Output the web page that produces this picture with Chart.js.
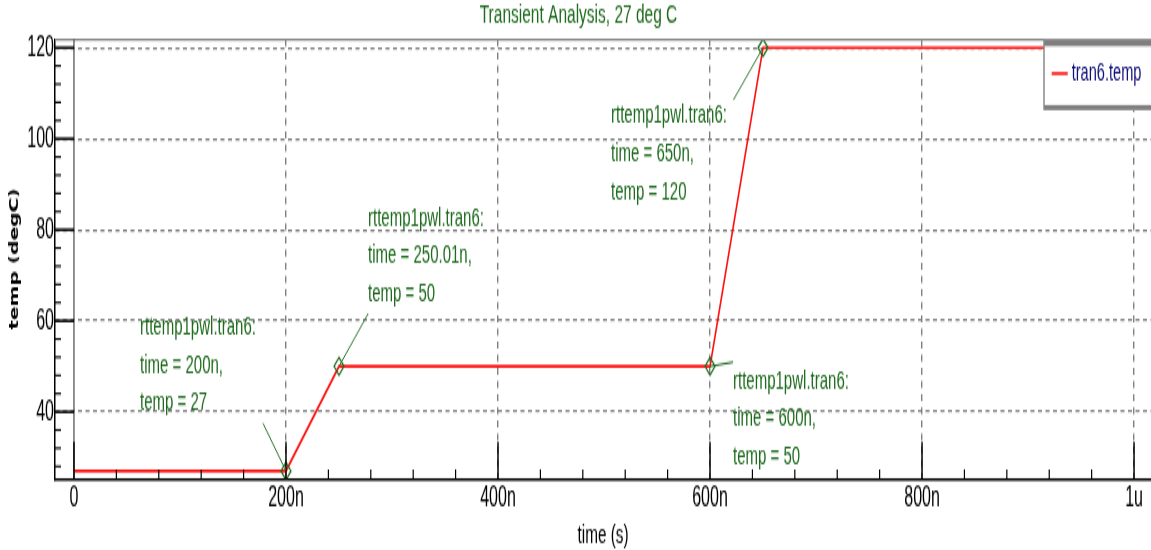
<!DOCTYPE html>
<html>
<head>
<meta charset="utf-8">
<title>Transient Analysis, 27 deg C</title>
<script src="https://cdn.jsdelivr.net/npm/chart.js@4.4.1/dist/chart.umd.min.js"></script>
<style>
  html, body { margin: 0; padding: 0; background: #fff; }
</style>
</head>
<body>
<!-- drawn at 1151x314 and shown stretched to 550 high, like the original capture -->
<canvas id="chart" width="1151" height="314" style="display:block;width:1151px;height:550px"></canvas>
<script>
/* ========= DATA ========= */

// tran6.temp waveform: time in ns, temperature in degC
const times = [0, 200, 250.01, 600, 650, 1000];
const temps = [27, 27, 50, 50, 120, 120];

// points marked with rttemp1pwl.tran6 notes
const markTimes = [200, 250.01, 600, 650];
const markTemps = [27, 50, 50, 120];

const xTicks = [0, 200, 400, 600, 800, 1000];
const xTickLabels = ["0", "200n", "400n", "600n", "800n", "1u"];
const yTicks = [40, 60, 80, 100, 120];
const yTickLabels = ["40", "60", "80", "100", "120"];

/* ========= STYLE ========= */

const RED = "#ff1010";
const GREEN = "#1d6b1d";
const GRID = "#7f7f7f";
const FONT = "'Liberation Sans', Arial, sans-serif";

// where each note's text and leader start sit, in data units (time, temp)
const notePlaces = [
  { tx: 62.3, ty: 58.5, lx: 178.3, ly: 37.5 },
  { tx: 277.4, ty: 82.5, lx: 277.6, ly: 61.6 },
  { tx: 621.7, ty: 46.7, lx: 621.7, ly: 50.9 },
  { tx: 506.6, ty: 105.0, lx: 622.0, ly: 108.5 }
];

/* ========= DECORATION PLUGIN ========= */

function seg(ctx, x1, y1, x2, y2) {
  ctx.beginPath();
  ctx.moveTo(x1, y1);
  ctx.lineTo(x2, y2);
  ctx.stroke();
}

const decor = {
  id: "decor",
  beforeDraw(chart) {
    const ctx = chart.ctx;
    ctx.save();
    ctx.fillStyle = "#fff";
    ctx.fillRect(0, 0, chart.width, chart.height);
    ctx.restore();
  },
  afterDatasetsDraw(chart) {
    const { ctx, chartArea: a, scales: { x, y } } = chart;
    ctx.save();

    // top frame
    ctx.strokeStyle = "#8c8c8c";
    ctx.lineWidth = 1.3;
    seg(ctx, a.left, a.top, a.right, a.top);

    // solid frame at t = 0
    const x0 = x.getPixelForValue(0);
    ctx.strokeStyle = "#222";
    ctx.lineWidth = 1;
    seg(ctx, x0, a.top, x0, a.bottom);

    // y ticks point inward, minor every 4 degC
    ctx.strokeStyle = "#000";
    for (let v = Math.ceil(y.min / 4) * 4; v <= y.max; v += 4) {
      const py = y.getPixelForValue(v);
      const major = yTicks.includes(v);
      ctx.lineWidth = major ? 1.5 : 1.1;
      seg(ctx, a.left, py, a.left + (major ? 19 : 6), py);
    }

    // x ticks point up, minor every 40n
    for (let t = 0; t <= x.max; t += 40) {
      const px = x.getPixelForValue(t);
      const major = xTicks.includes(t);
      ctx.lineWidth = major ? 1.5 : 1.2;
      seg(ctx, px, a.bottom, px, a.bottom - (major ? 21 : 5.4));
    }

    // notes with leader lines
    ctx.font = "15px " + FONT;
    ctx.textAlign = "left";
    ctx.textBaseline = "middle";
    ctx.fillStyle = GREEN;
    ctx.strokeStyle = GREEN;
    ctx.lineWidth = 1;
    markTimes.forEach((t, i) => {
      const p = notePlaces[i];
      seg(ctx, x.getPixelForValue(p.lx), y.getPixelForValue(p.ly),
        x.getPixelForValue(t), y.getPixelForValue(markTemps[i]));
      const lines = ["rttemp1pwl.tran6:", `time = ${t}n,`, `temp = ${markTemps[i]}`];
      const tx = x.getPixelForValue(p.tx);
      const ty = y.getPixelForValue(p.ty);
      lines.forEach((s, j) => ctx.fillText(s, tx, ty + j * 21.6));
    });

    // legend box in the top right corner
    const ds = chart.data.datasets[1];
    const lx = a.right - 107;
    ctx.fillStyle = "#fff";
    ctx.fillRect(lx, a.top, a.right - lx, 40.3);
    ctx.fillStyle = "#7f7f7f";
    ctx.fillRect(lx, a.top - 0.2, a.right - lx, 4);
    ctx.fillRect(lx, a.top + 37.4, a.right - lx, 2.9);
    ctx.strokeStyle = "#8a8a8a";
    ctx.lineWidth = 1.5;
    seg(ctx, lx, a.top, lx, a.top + 40.3);
    ctx.strokeStyle = ds.borderColor;
    ctx.lineWidth = 1.6;
    seg(ctx, lx + 7.7, a.top + 19.4, lx + 23.7, a.top + 19.4);
    ctx.fillStyle = "#10107a";
    ctx.font = "14.6px " + FONT;
    ctx.fillText(ds.label, lx + 27.7, a.top + 19.4);

    ctx.restore();
  }
};

/* ========= CHART ========= */

new Chart(document.getElementById("chart"), {
  type: "scatter",
  data: {
    datasets: [
      {
        label: "marks",
        data: markTimes.map((t, i) => ({ x: t, y: markTemps[i] })),
        showLine: false,
        pointStyle: "rectRot",
        pointRadius: 5,
        pointBorderWidth: 1.2,
        pointBorderColor: GREEN,
        pointBackgroundColor: "rgba(0,0,0,0)",
        order: 0
      },
      {
        label: "tran6.temp",
        data: times.map((t, i) => ({ x: t, y: temps[i] })),
        showLine: true,
        borderColor: RED,
        borderWidth: 1.6,
        pointRadius: 0,
        tension: 0,
        order: 1
      }
    ]
  },
  options: {
    responsive: false,
    animation: false,
    devicePixelRatio: 1,
    layout: { autoPadding: false, padding: { left: 6, top: 0, right: 0, bottom: 0 } },
    plugins: {
      legend: { display: false },
      tooltip: { enabled: false },
      title: {
        display: true,
        text: "Transient Analysis, 27 deg C",
        color: GREEN,
        font: { family: FONT, size: 15.5, weight: "normal", lineHeight: 1 },
        padding: { top: 1.35, bottom: 5.7 }
      }
    },
    scales: {
      x: {
        type: "linear",
        min: -17.9,
        max: 1016,
        afterBuildTicks: s => { s.ticks = xTicks.map(v => ({ value: v })); },
        afterFit: s => {
          s.height = 40.7;
          s.paddingLeft = 0;
          s.paddingRight = 0;
        },
        grid: {
          drawTicks: false,
          lineWidth: 1.4,
          color: c => (c.tick && c.tick.value === 0) ? "rgba(0,0,0,0)" : GRID
        },
        border: { color: "#000", width: 1.4, dash: [4, 3.5] },
        ticks: {
          color: "#000",
          font: { family: FONT, size: 16 },
          padding: 2,
          autoSkip: false,
          maxRotation: 0,
          callback: (v, i) => xTickLabels[i]
        },
        title: {
          display: true,
          text: "time (s)",
          color: "#000",
          font: { family: FONT, size: 15.3, lineHeight: 1.1 },
          padding: { top: 0, bottom: 0 }
        }
      },
      y: {
        type: "linear",
        min: 25.3,
        max: 121.8,
        afterBuildTicks: s => { s.ticks = yTicks.map(v => ({ value: v })); },
        afterFit: s => {
          s.width = 49;
          s.paddingTop = 0;
          s.paddingBottom = 0;
        },
        grid: { drawTicks: false, lineWidth: 1.3, color: GRID },
        border: { color: "#000", width: 1.5, dash: [4, 3.5] },
        ticks: {
          color: "#000",
          font: { family: FONT, size: 16 },
          padding: 1,
          callback: (v, i) => yTickLabels[i]
        },
        title: {
          display: true,
          text: "temp (degC)",
          color: "#000",
          font: { family: "'DejaVu Sans', sans-serif", size: 11.5, weight: "bold" },
          padding: { top: 2.1, bottom: 0 }
        }
      }
    }
  },
  plugins: [decor]
});

document.getElementById("chart").style.height = "550px";
</script>
</body>
</html>
